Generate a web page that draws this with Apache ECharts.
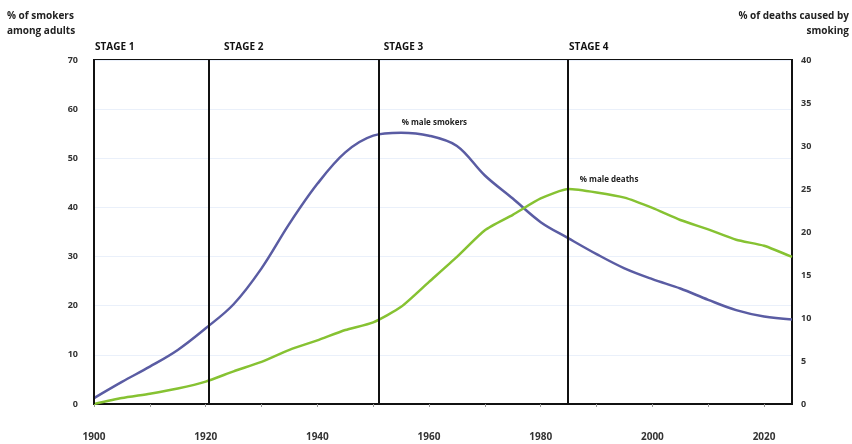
<!DOCTYPE html>
<html>
<head>
<meta charset="utf-8">
<script src="https://cdn.jsdelivr.net/npm/echarts@6/dist/echarts.min.js"></script>
<style>
html,body{margin:0;padding:0;background:#fff;}
#c{width:852px;height:444px;}
</style>
</head>
<body>
<div id="c"></div>
<script>
const years = [1900,1905,1910,1915,1920,1925,1930,1935,1940,1945,1950,1955,1960,1965,1970,1975,1980,1985,1990,1995,2000,2005,2010,2015,2020,2025];
const maleSmokers = [1.2,4.5,7.6,11,15.4,20.3,27.6,36.7,44.8,51.2,54.6,55.2,54.6,52.5,46.5,41.8,37,33.7,30.5,27.6,25.4,23.5,21.2,19.1,17.8,17.2];
const maleDeaths = [0,0.7,1.2,1.8,2.6,3.8,4.9,6.3,7.4,8.6,9.5,11.3,14.2,17.1,20.2,22,23.9,25,24.6,24,22.8,21.4,20.3,19.1,18.4,17.1];
const stageNames = ['STAGE 1','STAGE 2','STAGE 3','STAGE 4'];
const stageYears = [1900,1920.6,1951,1984.9];
const xTickLabels = [1900,1920,1940,1960,1980,2000,2020];
const leftTitle = '% of smokers\namong adults';
const rightTitle = '% of deaths caused by\nsmoking';

const FONT = 'Open Sans';
const chart = echarts.init(document.getElementById('c'), null, {renderer:'canvas'});
const option = {
  animation:false,
  backgroundColor:'#fff',
  textStyle:{fontFamily:FONT},
  grid:{left:94,right:60,top:60,bottom:40,show:true,borderColor:'#111',borderWidth:2,backgroundColor:'transparent'},
  xAxis:{type:'value',min:1900,max:2025,interval:10,
    axisLine:{show:true,lineStyle:{color:'#111',width:2}},
    axisTick:{show:true,length:3,inside:false,lineStyle:{color:'#999'}},
    splitLine:{show:false},
    axisLabel:{margin:28,fontSize:10,fontWeight:'bold',color:'#333',fontFamily:FONT,
      showMaxLabel:false,
      formatter:v=> xTickLabels.indexOf(v)>=0 ? String(v) : ''}
  },
  yAxis:[
    {type:'value',min:0,max:70,interval:10,position:'left',
     axisLine:{show:true,lineStyle:{color:'#111',width:2}},
     axisTick:{show:false},
     splitLine:{show:true,lineStyle:{color:'#eaf0fa',width:1}},
     axisLabel:{margin:16,fontSize:9,fontWeight:'bold',color:'#333',fontFamily:FONT}},
    {type:'value',min:0,max:40,interval:5,position:'right',
     axisLine:{show:true,lineStyle:{color:'#111',width:2}},
     axisTick:{show:false},
     splitLine:{show:false},
     axisLabel:{margin:9,fontSize:9,fontWeight:'bold',color:'#333',fontFamily:FONT}}
  ],
  graphic:[
    {type:'text',x:7,y:9,style:{text:leftTitle,fontSize:10,fontWeight:'bold',fill:'#222',fontFamily:FONT,lineHeight:15}},
    {type:'text',x:849,y:9,style:{text:rightTitle,fontSize:10,fontWeight:'bold',fill:'#222',fontFamily:FONT,lineHeight:15,align:'right',textAlign:'right'}}
  ],
  series:[
    {name:'% male smokers',type:'line',yAxisIndex:0,showSymbol:false,symbol:'none',smooth:0.35,
     data:years.map((y,i)=>[y,maleSmokers[i]]),
     lineStyle:{color:'#5a5ca3',width:2.5},itemStyle:{color:'#5a5ca3'},
     markPoint:{symbol:'circle',symbolSize:0,
       data:[{coord:[1956,maleSmokers[11]],name:'% male smokers'}],
       label:{show:true,position:'top',distance:6,align:'left',offset:[-5,0],formatter:'% male smokers',fontSize:8,fontWeight:'bold',color:'#222',fontFamily:FONT}},
     markLine:{silent:true,symbol:['none','none'],
       lineStyle:{color:'#111',width:2,type:'solid'},
       label:{show:true,position:'end',distance:8,align:'left',fontSize:10,fontWeight:'bold',color:'#111',fontFamily:FONT,
         formatter:p=>p.name},
       data:stageYears.map((y,i)=>({xAxis:y,name:stageNames[i],label:{offset:[i===0?1:(i===1?15:(i===2?5:1)),0]}}))}
    },
    {name:'% male deaths',type:'line',yAxisIndex:1,showSymbol:false,symbol:'none',smooth:0.2,
     data:years.map((y,i)=>[y,maleDeaths[i]]),
     lineStyle:{color:'#86c232',width:2.5},itemStyle:{color:'#86c232'},
     markPoint:{symbol:'circle',symbolSize:0,
       data:[{coord:[1987,maleDeaths[17]],name:'% male deaths'}],
       label:{show:true,position:'top',distance:5,align:'left',offset:[0,0],formatter:'% male deaths',fontSize:8,fontWeight:'bold',color:'#222',fontFamily:FONT}}
    }
  ]
};
chart.setOption(option);
</script>
</body>
</html>
